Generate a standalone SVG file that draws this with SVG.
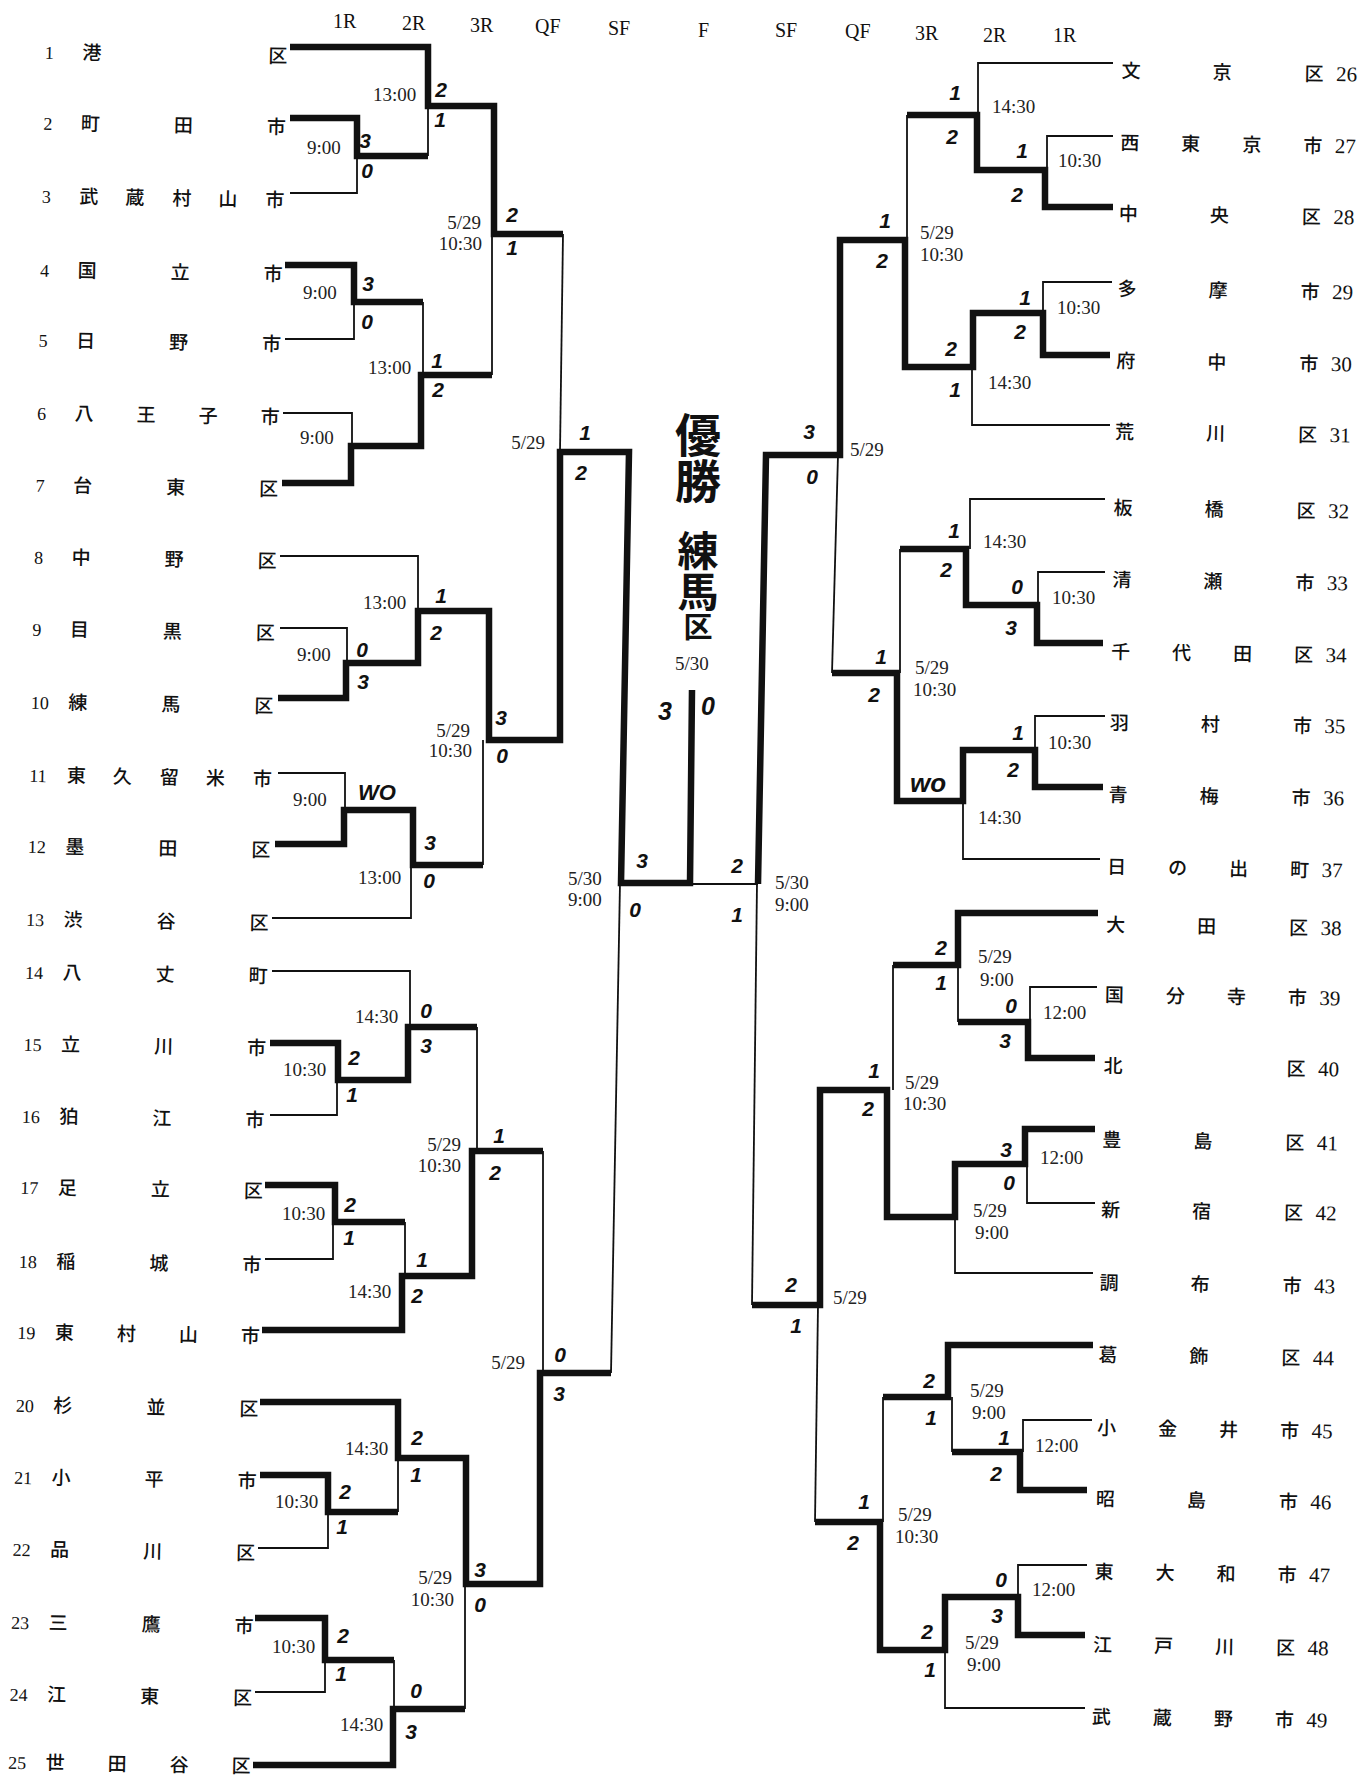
<svg xmlns="http://www.w3.org/2000/svg" width="1372" height="1778" viewBox="0 0 1372 1778">
<style>
.tk{fill:none;stroke:#111;stroke-width:6.5;stroke-linejoin:miter;stroke-linecap:butt}
.tn{fill:none;stroke:#111;stroke-width:1.8}
.nm{font-family:"Noto Sans CJK JP","Noto Sans CJK SC",sans-serif;font-size:19px;font-weight:500;text-anchor:middle;fill:#111}
.nl{font-family:"Liberation Serif",serif;font-size:18px;fill:#111}
.nr{font-family:"Liberation Serif",serif;font-size:21px;fill:#111}
.t{font-family:"Liberation Serif",serif;font-size:19px;fill:#222}
.te{text-anchor:end}
.s{font-family:"Liberation Sans",sans-serif;font-weight:bold;font-style:italic;font-size:21px;text-anchor:middle;fill:#111}
.h{font-family:"Liberation Serif",serif;font-size:20px;fill:#111}
.ti{font-family:"Noto Sans CJK JP",sans-serif;font-weight:bold;fill:#111;writing-mode:vertical-rl}
</style>
<rect width="1372" height="1778" fill="#fff"/>

<g id="headers">
<text class="h" x="333" y="28">1R</text>
<text class="h" x="402" y="30">2R</text>
<text class="h" x="470" y="32">3R</text>
<text class="h" x="535" y="33">QF</text>
<text class="h" x="608" y="35">SF</text>
<text class="h" x="698" y="37">F</text>
<text class="h" x="775" y="37">SF</text>
<text class="h" x="845" y="38">QF</text>
<text class="h" x="915" y="40">3R</text>
<text class="h" x="983" y="42">2R</text>
<text class="h" x="1053" y="42">1R</text>
</g>

<g id="connectors">
<g id="thin-lines">
<path class="tn" d="M290,193 H357 V156"/>
<path class="tn" d="M428,156 V106"/>
<path class="tn" d="M285,339 H354 V302"/>
<path class="tn" d="M423,302 V375"/>
<path class="tn" d="M283,413 H352 V446"/>
<path class="tn" d="M492,375 V234"/>
<path class="tn" d="M563,234 L560,452"/>
<path class="tn" d="M280,556 H418 V611"/>
<path class="tn" d="M280,628 H347 V663"/>
<path class="tn" d="M278,773 H345 V810"/>
<path class="tn" d="M272,918 H411 V865"/>
<path class="tn" d="M483,865 V740"/>
<path class="tn" d="M272,971 H410 V1027"/>
<path class="tn" d="M270,1115 H337 V1080"/>
<path class="tn" d="M477,1027 V1151"/>
<path class="tn" d="M265,1259 H333 V1222"/>
<path class="tn" d="M405,1222 V1276"/>
<path class="tn" d="M543,1151 V1373"/>
<path class="tn" d="M258,1548 H328 V1512"/>
<path class="tn" d="M398,1512 V1458"/>
<path class="tn" d="M255,1692 H325 V1660"/>
<path class="tn" d="M394,1660 V1709"/>
<path class="tn" d="M465,1709 V1584"/>
<path class="tn" d="M611,1373 L620,883"/>
<path class="tn" d="M1113,63 H978 V115"/>
<path class="tn" d="M1113,136 H1047 V170"/>
<path class="tn" d="M907,115 V240"/>
<path class="tn" d="M1112,282 H1043 V313"/>
<path class="tn" d="M1110,425 H972 V367"/>
<path class="tn" d="M758,884 H690"/>
<path class="tn" d="M1105,499 H970 V549"/>
<path class="tn" d="M1105,572 H1038 V605"/>
<path class="tn" d="M900,549 V673"/>
<path class="tn" d="M1105,716 H1035 V750"/>
<path class="tn" d="M832,673 L838,455"/>
<path class="tn" d="M1100,859 H963 V801"/>
<path class="tn" d="M893,965 V1090"/>
<path class="tn" d="M1097,987 H1030 V1022"/>
<path class="tn" d="M958,1022 V965"/>
<path class="tn" d="M1095,1203 H1027 V1164"/>
<path class="tn" d="M1093,1273 H955 V1217"/>
<path class="tn" d="M752,1305 L757,883"/>
<path class="tn" d="M883,1397 V1522"/>
<path class="tn" d="M1092,1420 H1023 V1452"/>
<path class="tn" d="M952,1452 V1397"/>
<path class="tn" d="M1087,1565 H1018 V1597"/>
<path class="tn" d="M815,1522 L818,1305"/>
<path class="tn" d="M1085,1708 H945 V1650"/>
</g>
<g id="thick-lines">
<path class="tk" d="M290,47 H428 V106 H494 V234 H563"/>
<path class="tk" d="M290,118 H357 V156 H428"/>
<path class="tk" d="M285,265 H354 V302 H423"/>
<path class="tk" d="M282,483 H351 V446 H421 V375 H492"/>
<path class="tk" d="M278,698 H346 V663 H418 V611 H489 V740 H560 V452 H629 L621,883 H690 L692,690"/>
<path class="tk" d="M275,844 H344 V810 H413 V865 H483"/>
<path class="tk" d="M270,1043 H338 V1080 H408 V1027 H477"/>
<path class="tk" d="M265,1185 H335 V1222 H405"/>
<path class="tk" d="M262,1330 H402 V1276 H472 V1151 H543"/>
<path class="tk" d="M260,1402 H398 V1458 H466 V1584 H540 V1373 H611"/>
<path class="tk" d="M260,1475 H328 V1512 H398"/>
<path class="tk" d="M255,1618 H325 V1660 H394"/>
<path class="tk" d="M253,1765 H393 V1709 H465"/>
<path class="tk" d="M1113,207 H1045 V170 H977 V115 H907"/>
<path class="tk" d="M1110,355 H1043 V313 H973 V367 H905 V240 H840 V455 H766 L758,884"/>
<path class="tk" d="M1103,643 H1037 V605 H966 V549 H900"/>
<path class="tk" d="M1103,787 H1035 V750 H963 V801 H897 V673 H832"/>
<path class="tk" d="M1098,913 H958 V965 H893"/>
<path class="tk" d="M1095,1058 H1028 V1022 H958"/>
<path class="tk" d="M1095,1129 H1025 V1164 H955 V1217 H887 V1090 H820 V1305 H752"/>
<path class="tk" d="M1093,1345 H948 V1397 H883"/>
<path class="tk" d="M1087,1490 H1020 V1452 H952"/>
<path class="tk" d="M1085,1635 H1018 V1597 H945 V1650 H880 V1522 H815"/>
</g>
</g>

<g id="left-teams" transform="matrix(1 0.0165 -0.0215 1 0 0)">
<g id="team-1"><text class="nl" x="46" y="58">1</text><text class="nm" x="93" y="58">港</text><text class="nm" x="279" y="58">区</text></g>
<g id="team-2"><text class="nl" x="46" y="129">2</text><text class="nm" x="93" y="129">町</text><text class="nm" x="186" y="129">田</text><text class="nm" x="279" y="129">市</text></g>
<g id="team-3"><text class="nl" x="46" y="202">3</text><text class="nm" x="93" y="202">武</text><text class="nm" x="139" y="202">蔵</text><text class="nm" x="186" y="202">村</text><text class="nm" x="232" y="202">山</text><text class="nm" x="279" y="202">市</text></g>
<g id="team-4"><text class="nl" x="46" y="276">4</text><text class="nm" x="93" y="276">国</text><text class="nm" x="186" y="276">立</text><text class="nm" x="279" y="276">市</text></g>
<g id="team-5"><text class="nl" x="46" y="346">5</text><text class="nm" x="93" y="346">日</text><text class="nm" x="186" y="346">野</text><text class="nm" x="279" y="346">市</text></g>
<g id="team-6"><text class="nl" x="46" y="419">6</text><text class="nm" x="93" y="419">八</text><text class="nm" x="155" y="419">王</text><text class="nm" x="217" y="419">子</text><text class="nm" x="279" y="419">市</text></g>
<g id="team-7"><text class="nl" x="46" y="491">7</text><text class="nm" x="93" y="491">台</text><text class="nm" x="186" y="491">東</text><text class="nm" x="279" y="491">区</text></g>
<g id="team-8"><text class="nl" x="46" y="563">8</text><text class="nm" x="93" y="563">中</text><text class="nm" x="186" y="563">野</text><text class="nm" x="279" y="563">区</text></g>
<g id="team-9"><text class="nl" x="46" y="635">9</text><text class="nm" x="93" y="635">目</text><text class="nm" x="186" y="635">黒</text><text class="nm" x="279" y="635">区</text></g>
<g id="team-10"><text class="nl" x="46" y="708">10</text><text class="nm" x="93" y="708">練</text><text class="nm" x="186" y="708">馬</text><text class="nm" x="279" y="708">区</text></g>
<g id="team-11"><text class="nl" x="46" y="781">11</text><text class="nm" x="93" y="781">東</text><text class="nm" x="139" y="781">久</text><text class="nm" x="186" y="781">留</text><text class="nm" x="232" y="781">米</text><text class="nm" x="279" y="781">市</text></g>
<g id="team-12"><text class="nl" x="46" y="852">12</text><text class="nm" x="93" y="852">墨</text><text class="nm" x="186" y="852">田</text><text class="nm" x="279" y="852">区</text></g>
<g id="team-13"><text class="nl" x="46" y="925">13</text><text class="nm" x="93" y="925">渋</text><text class="nm" x="186" y="925">谷</text><text class="nm" x="279" y="925">区</text></g>
<g id="team-14"><text class="nl" x="46" y="978">14</text><text class="nm" x="93" y="978">八</text><text class="nm" x="186" y="978">丈</text><text class="nm" x="279" y="978">町</text></g>
<g id="team-15"><text class="nl" x="46" y="1050">15</text><text class="nm" x="93" y="1050">立</text><text class="nm" x="186" y="1050">川</text><text class="nm" x="279" y="1050">市</text></g>
<g id="team-16"><text class="nl" x="46" y="1122">16</text><text class="nm" x="93" y="1122">狛</text><text class="nm" x="186" y="1122">江</text><text class="nm" x="279" y="1122">市</text></g>
<g id="team-17"><text class="nl" x="46" y="1193">17</text><text class="nm" x="93" y="1193">足</text><text class="nm" x="186" y="1193">立</text><text class="nm" x="279" y="1193">区</text></g>
<g id="team-18"><text class="nl" x="46" y="1267">18</text><text class="nm" x="93" y="1267">稲</text><text class="nm" x="186" y="1267">城</text><text class="nm" x="279" y="1267">市</text></g>
<g id="team-19"><text class="nl" x="46" y="1338">19</text><text class="nm" x="93" y="1338">東</text><text class="nm" x="155" y="1338">村</text><text class="nm" x="217" y="1338">山</text><text class="nm" x="279" y="1338">市</text></g>
<g id="team-20"><text class="nl" x="46" y="1411">20</text><text class="nm" x="93" y="1411">杉</text><text class="nm" x="186" y="1411">並</text><text class="nm" x="279" y="1411">区</text></g>
<g id="team-21"><text class="nl" x="46" y="1483">21</text><text class="nm" x="93" y="1483">小</text><text class="nm" x="186" y="1483">平</text><text class="nm" x="279" y="1483">市</text></g>
<g id="team-22"><text class="nl" x="46" y="1555">22</text><text class="nm" x="93" y="1555">品</text><text class="nm" x="186" y="1555">川</text><text class="nm" x="279" y="1555">区</text></g>
<g id="team-23"><text class="nl" x="46" y="1628">23</text><text class="nm" x="93" y="1628">三</text><text class="nm" x="186" y="1628">鷹</text><text class="nm" x="279" y="1628">市</text></g>
<g id="team-24"><text class="nl" x="46" y="1700">24</text><text class="nm" x="93" y="1700">江</text><text class="nm" x="186" y="1700">東</text><text class="nm" x="279" y="1700">区</text></g>
<g id="team-25"><text class="nl" x="46" y="1768">25</text><text class="nm" x="93" y="1768">世</text><text class="nm" x="155" y="1768">田</text><text class="nm" x="217" y="1768">谷</text><text class="nm" x="279" y="1768">区</text></g>
</g>

<g id="right-teams" transform="matrix(1 0.0165 -0.018 1 0 0)">
<g id="team-26"><text class="nm" x="1132" y="59">文</text><text class="nm" x="1223" y="59">京</text><text class="nm" x="1315" y="59">区</text><text class="nr" x="1337" y="59">26</text></g>
<g id="team-27"><text class="nm" x="1132" y="131">西</text><text class="nm" x="1193" y="131">東</text><text class="nm" x="1254" y="131">京</text><text class="nm" x="1315" y="131">市</text><text class="nr" x="1337" y="131">27</text></g>
<g id="team-28"><text class="nm" x="1132" y="202">中</text><text class="nm" x="1223" y="202">央</text><text class="nm" x="1315" y="202">区</text><text class="nr" x="1337" y="202">28</text></g>
<g id="team-29"><text class="nm" x="1132" y="277">多</text><text class="nm" x="1223" y="277">摩</text><text class="nm" x="1315" y="277">市</text><text class="nr" x="1337" y="277">29</text></g>
<g id="team-30"><text class="nm" x="1132" y="349">府</text><text class="nm" x="1223" y="349">中</text><text class="nm" x="1315" y="349">市</text><text class="nr" x="1337" y="349">30</text></g>
<g id="team-31"><text class="nm" x="1132" y="420">荒</text><text class="nm" x="1223" y="420">川</text><text class="nm" x="1315" y="420">区</text><text class="nr" x="1337" y="420">31</text></g>
<g id="team-32"><text class="nm" x="1132" y="496">板</text><text class="nm" x="1223" y="496">橋</text><text class="nm" x="1315" y="496">区</text><text class="nr" x="1337" y="496">32</text></g>
<g id="team-33"><text class="nm" x="1132" y="568">清</text><text class="nm" x="1223" y="568">瀬</text><text class="nm" x="1315" y="568">市</text><text class="nr" x="1337" y="568">33</text></g>
<g id="team-34"><text class="nm" x="1132" y="640">千</text><text class="nm" x="1193" y="640">代</text><text class="nm" x="1254" y="640">田</text><text class="nm" x="1315" y="640">区</text><text class="nr" x="1337" y="640">34</text></g>
<g id="team-35"><text class="nm" x="1132" y="711">羽</text><text class="nm" x="1223" y="711">村</text><text class="nm" x="1315" y="711">市</text><text class="nr" x="1337" y="711">35</text></g>
<g id="team-36"><text class="nm" x="1132" y="783">青</text><text class="nm" x="1223" y="783">梅</text><text class="nm" x="1315" y="783">市</text><text class="nr" x="1337" y="783">36</text></g>
<g id="team-37"><text class="nm" x="1132" y="855">日</text><text class="nm" x="1193" y="855">の</text><text class="nm" x="1254" y="855">出</text><text class="nm" x="1315" y="855">町</text><text class="nr" x="1337" y="855">37</text></g>
<g id="team-38"><text class="nm" x="1132" y="913">大</text><text class="nm" x="1223" y="913">田</text><text class="nm" x="1315" y="913">区</text><text class="nr" x="1337" y="913">38</text></g>
<g id="team-39"><text class="nm" x="1132" y="983">国</text><text class="nm" x="1193" y="983">分</text><text class="nm" x="1254" y="983">寺</text><text class="nm" x="1315" y="983">市</text><text class="nr" x="1337" y="983">39</text></g>
<g id="team-40"><text class="nm" x="1132" y="1054">北</text><text class="nm" x="1315" y="1054">区</text><text class="nr" x="1337" y="1054">40</text></g>
<g id="team-41"><text class="nm" x="1132" y="1128">豊</text><text class="nm" x="1223" y="1128">島</text><text class="nm" x="1315" y="1128">区</text><text class="nr" x="1337" y="1128">41</text></g>
<g id="team-42"><text class="nm" x="1132" y="1198">新</text><text class="nm" x="1223" y="1198">宿</text><text class="nm" x="1315" y="1198">区</text><text class="nr" x="1337" y="1198">42</text></g>
<g id="team-43"><text class="nm" x="1132" y="1271">調</text><text class="nm" x="1223" y="1271">布</text><text class="nm" x="1315" y="1271">市</text><text class="nr" x="1337" y="1271">43</text></g>
<g id="team-44"><text class="nm" x="1132" y="1343">葛</text><text class="nm" x="1223" y="1343">飾</text><text class="nm" x="1315" y="1343">区</text><text class="nr" x="1337" y="1343">44</text></g>
<g id="team-45"><text class="nm" x="1132" y="1416">小</text><text class="nm" x="1193" y="1416">金</text><text class="nm" x="1254" y="1416">井</text><text class="nm" x="1315" y="1416">市</text><text class="nr" x="1337" y="1416">45</text></g>
<g id="team-46"><text class="nm" x="1132" y="1487">昭</text><text class="nm" x="1223" y="1487">島</text><text class="nm" x="1315" y="1487">市</text><text class="nr" x="1337" y="1487">46</text></g>
<g id="team-47"><text class="nm" x="1132" y="1560">東</text><text class="nm" x="1193" y="1560">大</text><text class="nm" x="1254" y="1560">和</text><text class="nm" x="1315" y="1560">市</text><text class="nr" x="1337" y="1560">47</text></g>
<g id="team-48"><text class="nm" x="1132" y="1633">江</text><text class="nm" x="1193" y="1633">戸</text><text class="nm" x="1254" y="1633">川</text><text class="nm" x="1315" y="1633">区</text><text class="nr" x="1337" y="1633">48</text></g>
<g id="team-49"><text class="nm" x="1132" y="1705">武</text><text class="nm" x="1193" y="1705">蔵</text><text class="nm" x="1254" y="1705">野</text><text class="nm" x="1315" y="1705">市</text><text class="nr" x="1337" y="1705">49</text></g>
</g>

<g id="times">
<text class="t" x="373" y="101">13:00</text>
<text class="t" x="307" y="154">9:00</text>
<text class="t" x="303" y="299">9:00</text>
<text class="t" x="368" y="374">13:00</text>
<text class="t" x="300" y="444">9:00</text>
<text class="t te" x="481" y="229">5/29</text>
<text class="t te" x="482" y="250">10:30</text>
<text class="t te" x="545" y="449">5/29</text>
<text class="t" x="363" y="609">13:00</text>
<text class="t" x="297" y="661">9:00</text>
<text class="t te" x="470" y="737">5/29</text>
<text class="t te" x="472" y="757">10:30</text>
<text class="t" x="293" y="806">9:00</text>
<text class="t" x="358" y="884">13:00</text>
<text class="t" x="355" y="1023">14:30</text>
<text class="t" x="283" y="1076">10:30</text>
<text class="t te" x="461" y="1151">5/29</text>
<text class="t te" x="461" y="1172">10:30</text>
<text class="t" x="282" y="1220">10:30</text>
<text class="t" x="348" y="1298">14:30</text>
<text class="t te" x="525" y="1369">5/29</text>
<text class="t" x="345" y="1455">14:30</text>
<text class="t" x="275" y="1508">10:30</text>
<text class="t te" x="452" y="1584">5/29</text>
<text class="t te" x="454" y="1606">10:30</text>
<text class="t" x="272" y="1653">10:30</text>
<text class="t" x="340" y="1731">14:30</text>
<text class="t" x="568" y="885">5/30</text>
<text class="t" x="568" y="906">9:00</text>
<text class="t" x="675" y="670">5/30</text>
<text class="t" x="992" y="113">14:30</text>
<text class="t" x="1058" y="167">10:30</text>
<text class="t" x="920" y="239">5/29</text>
<text class="t" x="920" y="261">10:30</text>
<text class="t" x="1057" y="314">10:30</text>
<text class="t" x="988" y="389">14:30</text>
<text class="t" x="850" y="456">5/29</text>
<text class="t" x="983" y="548">14:30</text>
<text class="t" x="1052" y="604">10:30</text>
<text class="t" x="915" y="674">5/29</text>
<text class="t" x="913" y="696">10:30</text>
<text class="t" x="1048" y="749">10:30</text>
<text class="t" x="978" y="824">14:30</text>
<text class="t" x="775" y="889">5/30</text>
<text class="t" x="775" y="911">9:00</text>
<text class="t" x="978" y="963">5/29</text>
<text class="t" x="980" y="986">9:00</text>
<text class="t" x="1043" y="1019">12:00</text>
<text class="t" x="905" y="1089">5/29</text>
<text class="t" x="903" y="1110">10:30</text>
<text class="t" x="1040" y="1164">12:00</text>
<text class="t" x="973" y="1217">5/29</text>
<text class="t" x="975" y="1239">9:00</text>
<text class="t" x="833" y="1304">5/29</text>
<text class="t" x="970" y="1397">5/29</text>
<text class="t" x="972" y="1419">9:00</text>
<text class="t" x="1035" y="1452">12:00</text>
<text class="t" x="898" y="1521">5/29</text>
<text class="t" x="895" y="1543">10:30</text>
<text class="t" x="1032" y="1596">12:00</text>
<text class="t" x="965" y="1649">5/29</text>
<text class="t" x="967" y="1671">9:00</text>
</g>

<g id="scores">
<text class="s" x="441" y="97">2</text><text class="s" x="440" y="127">1</text>
<text class="s" x="365" y="148">3</text><text class="s" x="367" y="178">0</text>
<text class="s" x="368" y="291">3</text><text class="s" x="367" y="329">0</text>
<text class="s" x="437" y="368">1</text><text class="s" x="438" y="397">2</text>
<text class="s" x="512" y="222">2</text><text class="s" x="512" y="255">1</text>
<text class="s" x="585" y="440">1</text><text class="s" x="581" y="480">2</text>
<text class="s" x="362" y="657">0</text><text class="s" x="363" y="689">3</text>
<text class="s" x="441" y="603">1</text><text class="s" x="436" y="640">2</text>
<text class="s" x="377" y="800" style="font-size:22px">WO</text>
<text class="s" x="430" y="850">3</text><text class="s" x="429" y="888">0</text>
<text class="s" x="501" y="725">3</text><text class="s" x="502" y="763">0</text>
<text class="s" x="354" y="1065">2</text><text class="s" x="352" y="1102">1</text>
<text class="s" x="426" y="1018">0</text><text class="s" x="426" y="1053">3</text>
<text class="s" x="350" y="1212">2</text><text class="s" x="349" y="1245">1</text>
<text class="s" x="422" y="1267">1</text><text class="s" x="417" y="1303">2</text>
<text class="s" x="499" y="1143">1</text><text class="s" x="495" y="1180">2</text>
<text class="s" x="560" y="1362">0</text><text class="s" x="559" y="1401">3</text>
<text class="s" x="345" y="1499">2</text><text class="s" x="342" y="1534">1</text>
<text class="s" x="417" y="1445">2</text><text class="s" x="416" y="1482">1</text>
<text class="s" x="343" y="1643">2</text><text class="s" x="341" y="1681">1</text>
<text class="s" x="416" y="1698">0</text><text class="s" x="411" y="1739">3</text>
<text class="s" x="480" y="1577">3</text><text class="s" x="480" y="1612">0</text>
<text class="s" x="642" y="868">3</text><text class="s" x="635" y="917">0</text>
<text class="s" x="665" y="720" style="font-size:25px">3</text><text class="s" x="708" y="715" style="font-size:25px">0</text>
<text class="s" x="1022" y="158">1</text><text class="s" x="1017" y="202">2</text>
<text class="s" x="955" y="100">1</text><text class="s" x="952" y="144">2</text>
<text class="s" x="1025" y="305">1</text><text class="s" x="1020" y="339">2</text>
<text class="s" x="951" y="356">2</text><text class="s" x="955" y="397">1</text>
<text class="s" x="885" y="228">1</text><text class="s" x="882" y="268">2</text>
<text class="s" x="809" y="439">3</text><text class="s" x="812" y="484">0</text>
<text class="s" x="1017" y="594">0</text><text class="s" x="1011" y="635">3</text>
<text class="s" x="954" y="538">1</text><text class="s" x="946" y="577">2</text>
<text class="s" x="1018" y="740">1</text><text class="s" x="1013" y="777">2</text>
<text class="s" x="928" y="792" style="font-size:26px">wo</text>
<text class="s" x="881" y="664">1</text><text class="s" x="874" y="702">2</text>
<text class="s" x="737" y="873">2</text><text class="s" x="737" y="922">1</text>
<text class="s" x="1011" y="1013">0</text><text class="s" x="1005" y="1048">3</text>
<text class="s" x="941" y="955">2</text><text class="s" x="941" y="990">1</text>
<text class="s" x="1006" y="1157">3</text><text class="s" x="1009" y="1190">0</text>
<text class="s" x="874" y="1078">1</text><text class="s" x="868" y="1116">2</text>
<text class="s" x="791" y="1292">2</text><text class="s" x="796" y="1333">1</text>
<text class="s" x="1004" y="1445">1</text><text class="s" x="996" y="1481">2</text>
<text class="s" x="929" y="1388">2</text><text class="s" x="931" y="1425">1</text>
<text class="s" x="1001" y="1587">0</text><text class="s" x="997" y="1623">3</text>
<text class="s" x="927" y="1639">2</text><text class="s" x="930" y="1677">1</text>
<text class="s" x="864" y="1509">1</text><text class="s" x="853" y="1550">2</text>
</g>

<g id="champion">
<text class="ti" x="698" y="412" style="font-size:46px">優勝</text>
<text class="ti" x="698" y="530" style="font-size:41px">練馬<tspan style="font-size:29px">区</tspan></text>
</g>
</svg>
